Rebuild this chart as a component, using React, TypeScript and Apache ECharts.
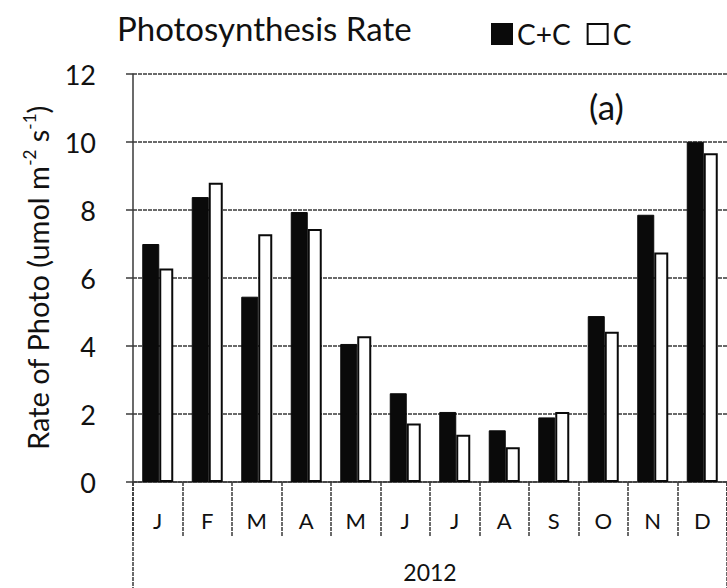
import React, { useEffect, useRef } from "react";
import * as echarts from "echarts";

const months = ["J", "F", "M", "A", "M", "J", "J", "A", "S", "O", "N", "D"];
const yearLabels = ["2012"];
const ccValues = [7.0, 8.38, 5.45, 7.94, 4.06, 2.61, 2.06, 1.52, 1.9, 4.88, 7.86, 10.01];
const cValues = [6.28, 8.8, 7.29, 7.44, 4.29, 1.72, 1.39, 1.02, 2.06, 4.42, 6.75, 9.67];
const seriesNames = ["C+C", "C"];
const titleText = "Photosynthesis Rate";
const panelLabel = "(a)";

const FONT = "Lato";
const INK = "#111";
const GRID = "#3a3a3a";

export default function App() {
  const ref = useRef<HTMLDivElement>(null);
  useEffect(() => {
    if (!ref.current) return;
    const chart = echarts.init(ref.current, undefined, { renderer: "svg" });
    const dashed = { color: GRID, width: 1.5, type: [4, 1] as any };
    chart.setOption({
      animation: false,
      backgroundColor: "#fff",
      textStyle: { fontFamily: FONT, color: INK },
      title: {
        text: titleText,
        left: 112,
        top: 6,
        textStyle: { fontFamily: FONT, fontSize: 33, fontWeight: "normal", color: INK },
      },
      legend: {
        left: 486,
        top: 15,
        itemWidth: 20,
        itemHeight: 20,
        itemGap: 16,
        icon: "rect",
        textStyle: { fontFamily: FONT, fontSize: 28, color: INK },
        data: seriesNames,
      },
      graphic: [
        {
          type: "text",
          left: 589,
          top: 88,
          style: { text: panelLabel, fontFamily: FONT, fontSize: 35, fill: INK },
        },
      ],
      grid: { left: 133, top: 74, height: 408, width: 596, containLabel: false },
      xAxis: [
        {
          type: "category",
          data: months,
          position: "bottom",
          axisLine: { show: true, lineStyle: { color: GRID, width: 1.5 } },
          axisTick: { show: true, alignWithLabel: false, interval: 0, length: 54, lineStyle: dashed },
          axisLabel: { interval: 0, margin: 27, fontFamily: FONT, fontSize: 22, color: INK },
          splitLine: { show: false },
        },
        {
          type: "category",
          data: yearLabels,
          position: "bottom",
          offset: 0,
          axisLine: { show: false },
          axisTick: { show: true, alignWithLabel: false, interval: 0, length: 108, lineStyle: dashed },
          axisLabel: { interval: 0, margin: 78, fontFamily: FONT, fontSize: 23, color: INK },
          splitLine: { show: false },
        },
      ],
      yAxis: {
        type: "value",
        min: 0,
        max: 12,
        interval: 2,
        axisLine: { show: true, lineStyle: { color: GRID, width: 1.5 } },
        axisTick: { show: true, inside: false, length: 7, lineStyle: { color: GRID, width: 1.5 } },
        axisLabel: { margin: 37, fontFamily: FONT, fontSize: 27, color: INK },
        splitLine: { show: true, lineStyle: dashed },
        name: "{a|Rate of Photo (umol m}{s|-2}{a| s}{s|-1}{a|)}",
        nameLocation: "middle",
        nameGap: 79,
        nameRotate: 90,
        nameTextStyle: {
          rich: {
            a: { fontFamily: FONT, fontSize: 29, color: INK, lineHeight: 33 },
            s: { fontFamily: FONT, fontSize: 17, color: INK, verticalAlign: "top", lineHeight: 33 },
          },
        },
      },
      series: [
        {
          name: seriesNames[0],
          type: "bar",
          data: ccValues,
          barWidth: 17,
          barGap: "0%",
          itemStyle: { color: "#0a0a0a", borderColor: "#0a0a0a", borderWidth: 1 },
        },
        {
          name: seriesNames[1],
          type: "bar",
          data: cValues,
          barWidth: 14,
          barGap: "0%",
          itemStyle: { color: "#fff", borderColor: "#0a0a0a", borderWidth: 2 },
        },
      ],
    });
    return () => chart.dispose();
  }, []);
  return (
    <div
      ref={ref}
      style={{ position: "absolute", left: 0, top: 0, width: 727, height: 588 }}
    />
  );
}
